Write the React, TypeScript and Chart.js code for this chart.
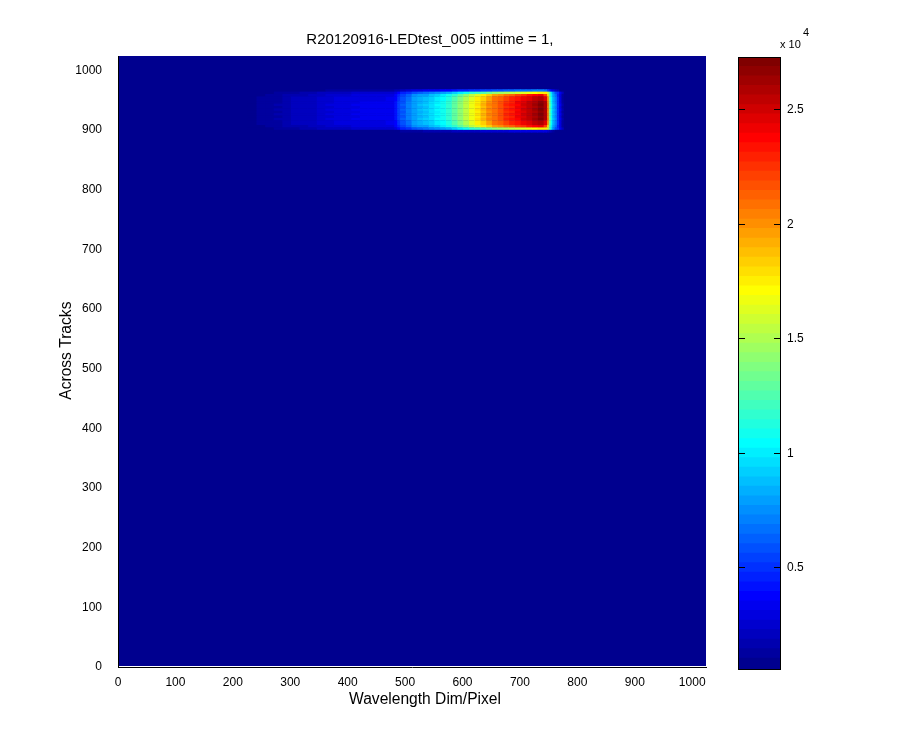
import React, { useEffect, useRef } from "react";
import { Chart, registerables } from "chart.js";

Chart.register(...registerables);

const titleText = "R20120916-LEDtest_005 inttime = 1, ";
const xLabel = "Wavelength Dim/Pixel";
const yLabel = "Across Tracks";
const axisMax = 1024;
const axisTicks = [0, 100, 200, 300, 400, 500, 600, 700, 800, 900, 1000];
const colorTicks = [0.5, 1, 1.5, 2, 2.5];

// Colour limits of the image, in units of 10^4 counts, one band per colormap entry.
const colorLevels = [
  0.059, 0.101, 0.142, 0.184, 0.226, 0.267, 0.309, 0.351, 0.392, 0.434, 0.476, 0.517, 0.559,
  0.601, 0.642, 0.684, 0.726, 0.767, 0.809, 0.851, 0.892, 0.934, 0.976, 1.017, 1.059, 1.101,
  1.142, 1.184, 1.226, 1.267, 1.309, 1.351, 1.392, 1.434, 1.476, 1.517, 1.559, 1.601, 1.642,
  1.684, 1.726, 1.767, 1.809, 1.851, 1.892, 1.934, 1.976, 2.017, 2.059, 2.101, 2.142, 2.184,
  2.226, 2.267, 2.309, 2.351, 2.392, 2.434, 2.476, 2.517, 2.559, 2.601, 2.642, 2.684, 2.726,
];

// Pixel bins along the wavelength axis.
const columnEdges = [
  225, 240, 255, 270, 285, 300, 315, 330, 345, 360, 375, 390, 405, 420, 435, 450, 465, 480, 485,
  490, 500, 510, 520, 530, 540, 550, 560, 570, 580, 590, 600, 610, 620, 630, 640, 650, 660, 670,
  680, 690, 700, 710, 720, 730, 740, 746, 749, 752, 755, 759, 763, 767, 771, 775, 780, 868, 872,
];

// Across-track centres of the rows that hold the lit band.
const rowCentres = [966, 962, 958, 954, 950, 946, 942, 938, 934, 930, 926, 922, 918, 914, 910, 906, 902, 898];

const rowEdge = [
  0.06, 0.07, 0.07, 0.08, 0.08, 0.09, 0.09, 0.1, 0.1, 0.11, 0.11, 0.12, 0.12, 0.12, 0.12, 0.13, 0.13, 0.15, 0.18,
  0.22, 0.25, 0.27, 0.29, 0.31, 0.33, 0.35, 0.37, 0.39, 0.41, 0.44, 0.46, 0.48, 0.5, 0.52, 0.55, 0.57, 0.59, 0.61, 0.63, 0.65, 0.66, 0.68, 0.7, 0.7,
  0.65, 0.55, 0.45, 0.35, 0.28, 0.22, 0.15, 0.1, 0.07, 0.06, 0.06, 0.06,
];
const rowFade = [
  0.06, 0.06, 0.06, 0.06, 0.06, 0.06, 0.07, 0.07, 0.07, 0.07, 0.08, 0.08, 0.08, 0.08, 0.08, 0.08, 0.08, 0.09, 0.1,
  0.11, 0.12, 0.13, 0.14, 0.15, 0.16, 0.17, 0.17, 0.18, 0.19, 0.2, 0.2, 0.21, 0.22, 0.23, 0.24, 0.25, 0.25, 0.26, 0.27, 0.28, 0.28, 0.29, 0.3, 0.3,
  0.28, 0.25, 0.2, 0.16, 0.13, 0.1, 0.08, 0.07, 0.06, 0.06, 0.06, 0.06,
];
const rowShoulder = [
  0.07, 0.09, 0.1, 0.11, 0.13, 0.14, 0.15, 0.17, 0.19, 0.2, 0.21, 0.22, 0.23, 0.24, 0.24, 0.24, 0.25, 0.3, 0.38,
  0.44, 0.5, 0.58, 0.62, 0.65, 0.7, 0.74, 0.78, 0.84, 0.92, 1.0, 1.08, 1.15, 1.2, 1.26, 1.32, 1.4, 1.45, 1.5, 1.55, 1.6, 1.62, 1.65, 1.7, 1.75,
  1.75, 1.6, 1.3, 0.95, 0.75, 0.6, 0.5, 0.35, 0.2, 0.1, 0.06, 0.06,
];
const rowInner = [
  0.08, 0.1, 0.12, 0.13, 0.16, 0.17, 0.18, 0.2, 0.22, 0.23, 0.25, 0.26, 0.27, 0.28, 0.28, 0.28, 0.3, 0.36, 0.47,
  0.55, 0.64, 0.73, 0.78, 0.8, 0.87, 0.92, 0.98, 1.06, 1.18, 1.29, 1.4, 1.52, 1.62, 1.74, 1.85, 1.95, 2.0, 2.08, 2.14, 2.22, 2.26, 2.32, 2.38, 2.4,
  2.2, 1.8, 1.25, 0.98, 0.8, 0.68, 0.47, 0.28, 0.13, 0.07, 0.06, 0.08,
];
const rowCore = [
  0.08, 0.11, 0.13, 0.14, 0.17, 0.19, 0.2, 0.21, 0.24, 0.25, 0.27, 0.28, 0.29, 0.3, 0.3, 0.3, 0.32, 0.39, 0.5,
  0.58, 0.68, 0.78, 0.83, 0.87, 0.93, 0.99, 1.05, 1.13, 1.25, 1.37, 1.49, 1.62, 1.73, 1.85, 1.96, 2.06, 2.12, 2.2, 2.27, 2.35, 2.4, 2.46, 2.52, 2.56,
  2.45, 2.0, 1.32, 1.03, 0.84, 0.71, 0.49, 0.29, 0.14, 0.08, 0.06, 0.09,
];
const rowPeakA = [
  0.08, 0.11, 0.13, 0.14, 0.18, 0.19, 0.2, 0.22, 0.25, 0.26, 0.28, 0.29, 0.3, 0.31, 0.31, 0.31, 0.33, 0.4, 0.52,
  0.6, 0.7, 0.8, 0.85, 0.88, 0.95, 1.0, 1.07, 1.15, 1.28, 1.4, 1.52, 1.65, 1.76, 1.88, 2.0, 2.1, 2.15, 2.24, 2.3, 2.4, 2.45, 2.52, 2.6, 2.66,
  2.58, 2.05, 1.35, 1.05, 0.85, 0.72, 0.5, 0.3, 0.14, 0.08, 0.06, 0.09,
];
const rowPeakB = [
  0.08, 0.11, 0.13, 0.15, 0.18, 0.19, 0.21, 0.22, 0.25, 0.27, 0.28, 0.29, 0.31, 0.31, 0.32, 0.31, 0.33, 0.41, 0.53,
  0.61, 0.71, 0.79, 0.86, 0.9, 0.96, 1.02, 1.08, 1.17, 1.3, 1.42, 1.55, 1.67, 1.79, 1.91, 2.02, 2.08, 2.18, 2.27, 2.33, 2.38, 2.48, 2.55, 2.63, 2.69,
  2.6, 2.08, 1.38, 1.07, 0.86, 0.73, 0.51, 0.31, 0.15, 0.08, 0.06, 0.09,
];

const rowProfiles = [
  rowEdge, rowShoulder, rowInner, rowCore, rowCore, rowPeakA, rowPeakB, rowPeakA, rowPeakB,
  rowPeakA, rowPeakB, rowPeakA, rowPeakB, rowCore, rowCore, rowInner, rowShoulder, rowFade,
];

function jet(i: number): string {
  const t = (i + 1) / 64;
  const ramp = (c: number) => Math.round(255 * Math.max(0, Math.min(1, 1.5 - Math.abs(4 * t - c))));
  return `rgb(${ramp(3)},${ramp(2)},${ramp(1)})`;
}
function colourOf(v: number): string {
  let i = 0;
  while (i < colorLevels.length - 2 && v >= colorLevels[i + 1]) i++;
  return jet(i);
}

const FONT = "'Liberation Sans', Arial, sans-serif";
const navy = jet(0);

const imagePlugin = {
  id: "imageGround",
  beforeDatasetsDraw(chart: any) {
    const { ctx, chartArea: a } = chart;
    ctx.save();
    ctx.fillStyle = navy;
    ctx.fillRect(a.left + 1, a.top, a.right - a.left - 1, a.bottom - a.top - 1);
    ctx.restore();
  },
};

const colorbarPlugin = {
  id: "colorbarFrame",
  afterDraw(chart: any) {
    const { ctx, chartArea: a } = chart;
    ctx.save();
    ctx.strokeStyle = "#000";
    ctx.lineWidth = 1;
    ctx.strokeRect(a.left - 0.5, a.top - 0.5, a.right - a.left + 1, a.bottom - a.top + 1);
    ctx.fillStyle = "#000";
    ctx.textAlign = "left";
    ctx.textBaseline = "alphabetic";
    ctx.font = `11px ${FONT}`;
    ctx.fillText("x 10", 80, 48);
    ctx.font = `11px ${FONT}`;
    ctx.fillText("4", 103, 36);
    ctx.restore();
  },
};

export default function App() {
  const mainRef = useRef<HTMLCanvasElement>(null);
  const barRef = useRef<HTMLCanvasElement>(null);

  useEffect(() => {
    const datasets = columnEdges.slice(0, -1).map((lo, c) => ({
      label: String(lo),
      data: rowCentres.map((y) => ({ y, x: [lo, columnEdges[c + 1] + 1.2] })),
      backgroundColor: rowProfiles.map((r) => colourOf(r[c])),
      borderWidth: 0,
      grouped: false,
      barPercentage: 1.15,
      categoryPercentage: 1,
    }));

    const main = new Chart(mainRef.current!, {
      type: "bar",
      data: { datasets },
      plugins: [imagePlugin],
      options: {
        animation: false,
        responsive: false,
        devicePixelRatio: 1,
        indexAxis: "y",
        layout: { padding: 0 },
        plugins: {
          legend: { display: false },
          tooltip: { enabled: false },
          title: {
            display: true,
            text: titleText,
            color: "#000",
            font: { family: FONT, size: 15, weight: "normal", lineHeight: 1.2 },
            padding: { top: 31, bottom: 7 },
          },
        },
        scales: {
          x: {
            type: "linear",
            min: 0,
            max: axisMax,
            afterBuildTicks: (s: any) => { s.ticks = axisTicks.map((value) => ({ value })); },
            afterFit: (s: any) => { s.height = 83; },
            grid: { display: false },
            border: { color: "#000", width: 1 },
            ticks: { color: "#000", font: { family: FONT, size: 12 }, maxRotation: 0, autoSkip: false, padding: 0, callback: (v: any) => String(v) },
            title: { display: true, text: "      " + xLabel, color: "#000", font: { family: FONT, size: 15.6, lineHeight: 1.2 }, padding: { top: 0, bottom: 41 } },
          },
          y: {
            type: "linear",
            offset: false,
            min: 0,
            max: axisMax,
            afterBuildTicks: (s: any) => { s.ticks = axisTicks.map((value) => ({ value })); },
            afterFit: (s: any) => { s.width = 118; },
            grid: { display: false, offset: false },
            border: { color: "#000", width: 1 },
            ticks: { color: "#000", font: { family: FONT, size: 12 }, autoSkip: false, padding: 8, callback: (v: any) => String(v) },
            title: { display: true, text: "     " + yLabel, color: "#000", font: { family: FONT, size: 15.6, lineHeight: 1.2 }, padding: { top: 57, bottom: 0 } },
          },
          rightMargin: {
            type: "linear",
            position: "right",
            afterFit: (s: any) => { s.width = 158; },
            grid: { display: false },
            border: { display: false },
            ticks: { display: false },
          },
        },
      },
    } as any);

    const barDatasets = colorLevels.slice(0, -1).map((lo, i) => ({
      label: String(lo),
      data: [[lo, colorLevels[i + 1] + (i < colorLevels.length - 2 ? 0.006 : 0)]],
      backgroundColor: jet(i),
      borderWidth: 0,
      grouped: false,
      barPercentage: 1,
      categoryPercentage: 1,
    }));

    const bar = new Chart(barRef.current!, {
      type: "bar",
      data: { labels: [""], datasets: barDatasets },
      plugins: [colorbarPlugin],
      options: {
        animation: false,
        responsive: false,
        devicePixelRatio: 1,
        layout: { padding: { left: 39, right: 0, top: 58, bottom: 81 } },
        plugins: { legend: { display: false }, tooltip: { enabled: false } },
        scales: {
          x: { display: false },
          y: {
            position: "right",
            min: colorLevels[0],
            max: colorLevels[colorLevels.length - 1],
            afterBuildTicks: (s: any) => { s.ticks = colorTicks.map((value) => ({ value })); },
            afterFit: (s: any) => { s.width = 120; },
            grid: { display: true, color: "#000", z: 1, drawTicks: false },
            border: { display: false, dash: [6, 29] },
            ticks: { color: "#000", font: { family: FONT, size: 12 }, padding: 7, autoSkip: false, callback: (v: any) => String(v) },
          },
        },
      },
    } as any);

    return () => { main.destroy(); bar.destroy(); };
  }, []);

  return (
    <div style={{ position: "fixed", left: 0, top: 0, width: 900, height: 750, background: "#fff" }}>
      <canvas ref={mainRef} width={864} height={750} style={{ position: "absolute", left: 0, top: 0, width: 864, height: 750 }} />
      <canvas ref={barRef} width={200} height={750} style={{ position: "absolute", left: 700, top: 0, width: 200, height: 750 }} />
    </div>
  );
}
